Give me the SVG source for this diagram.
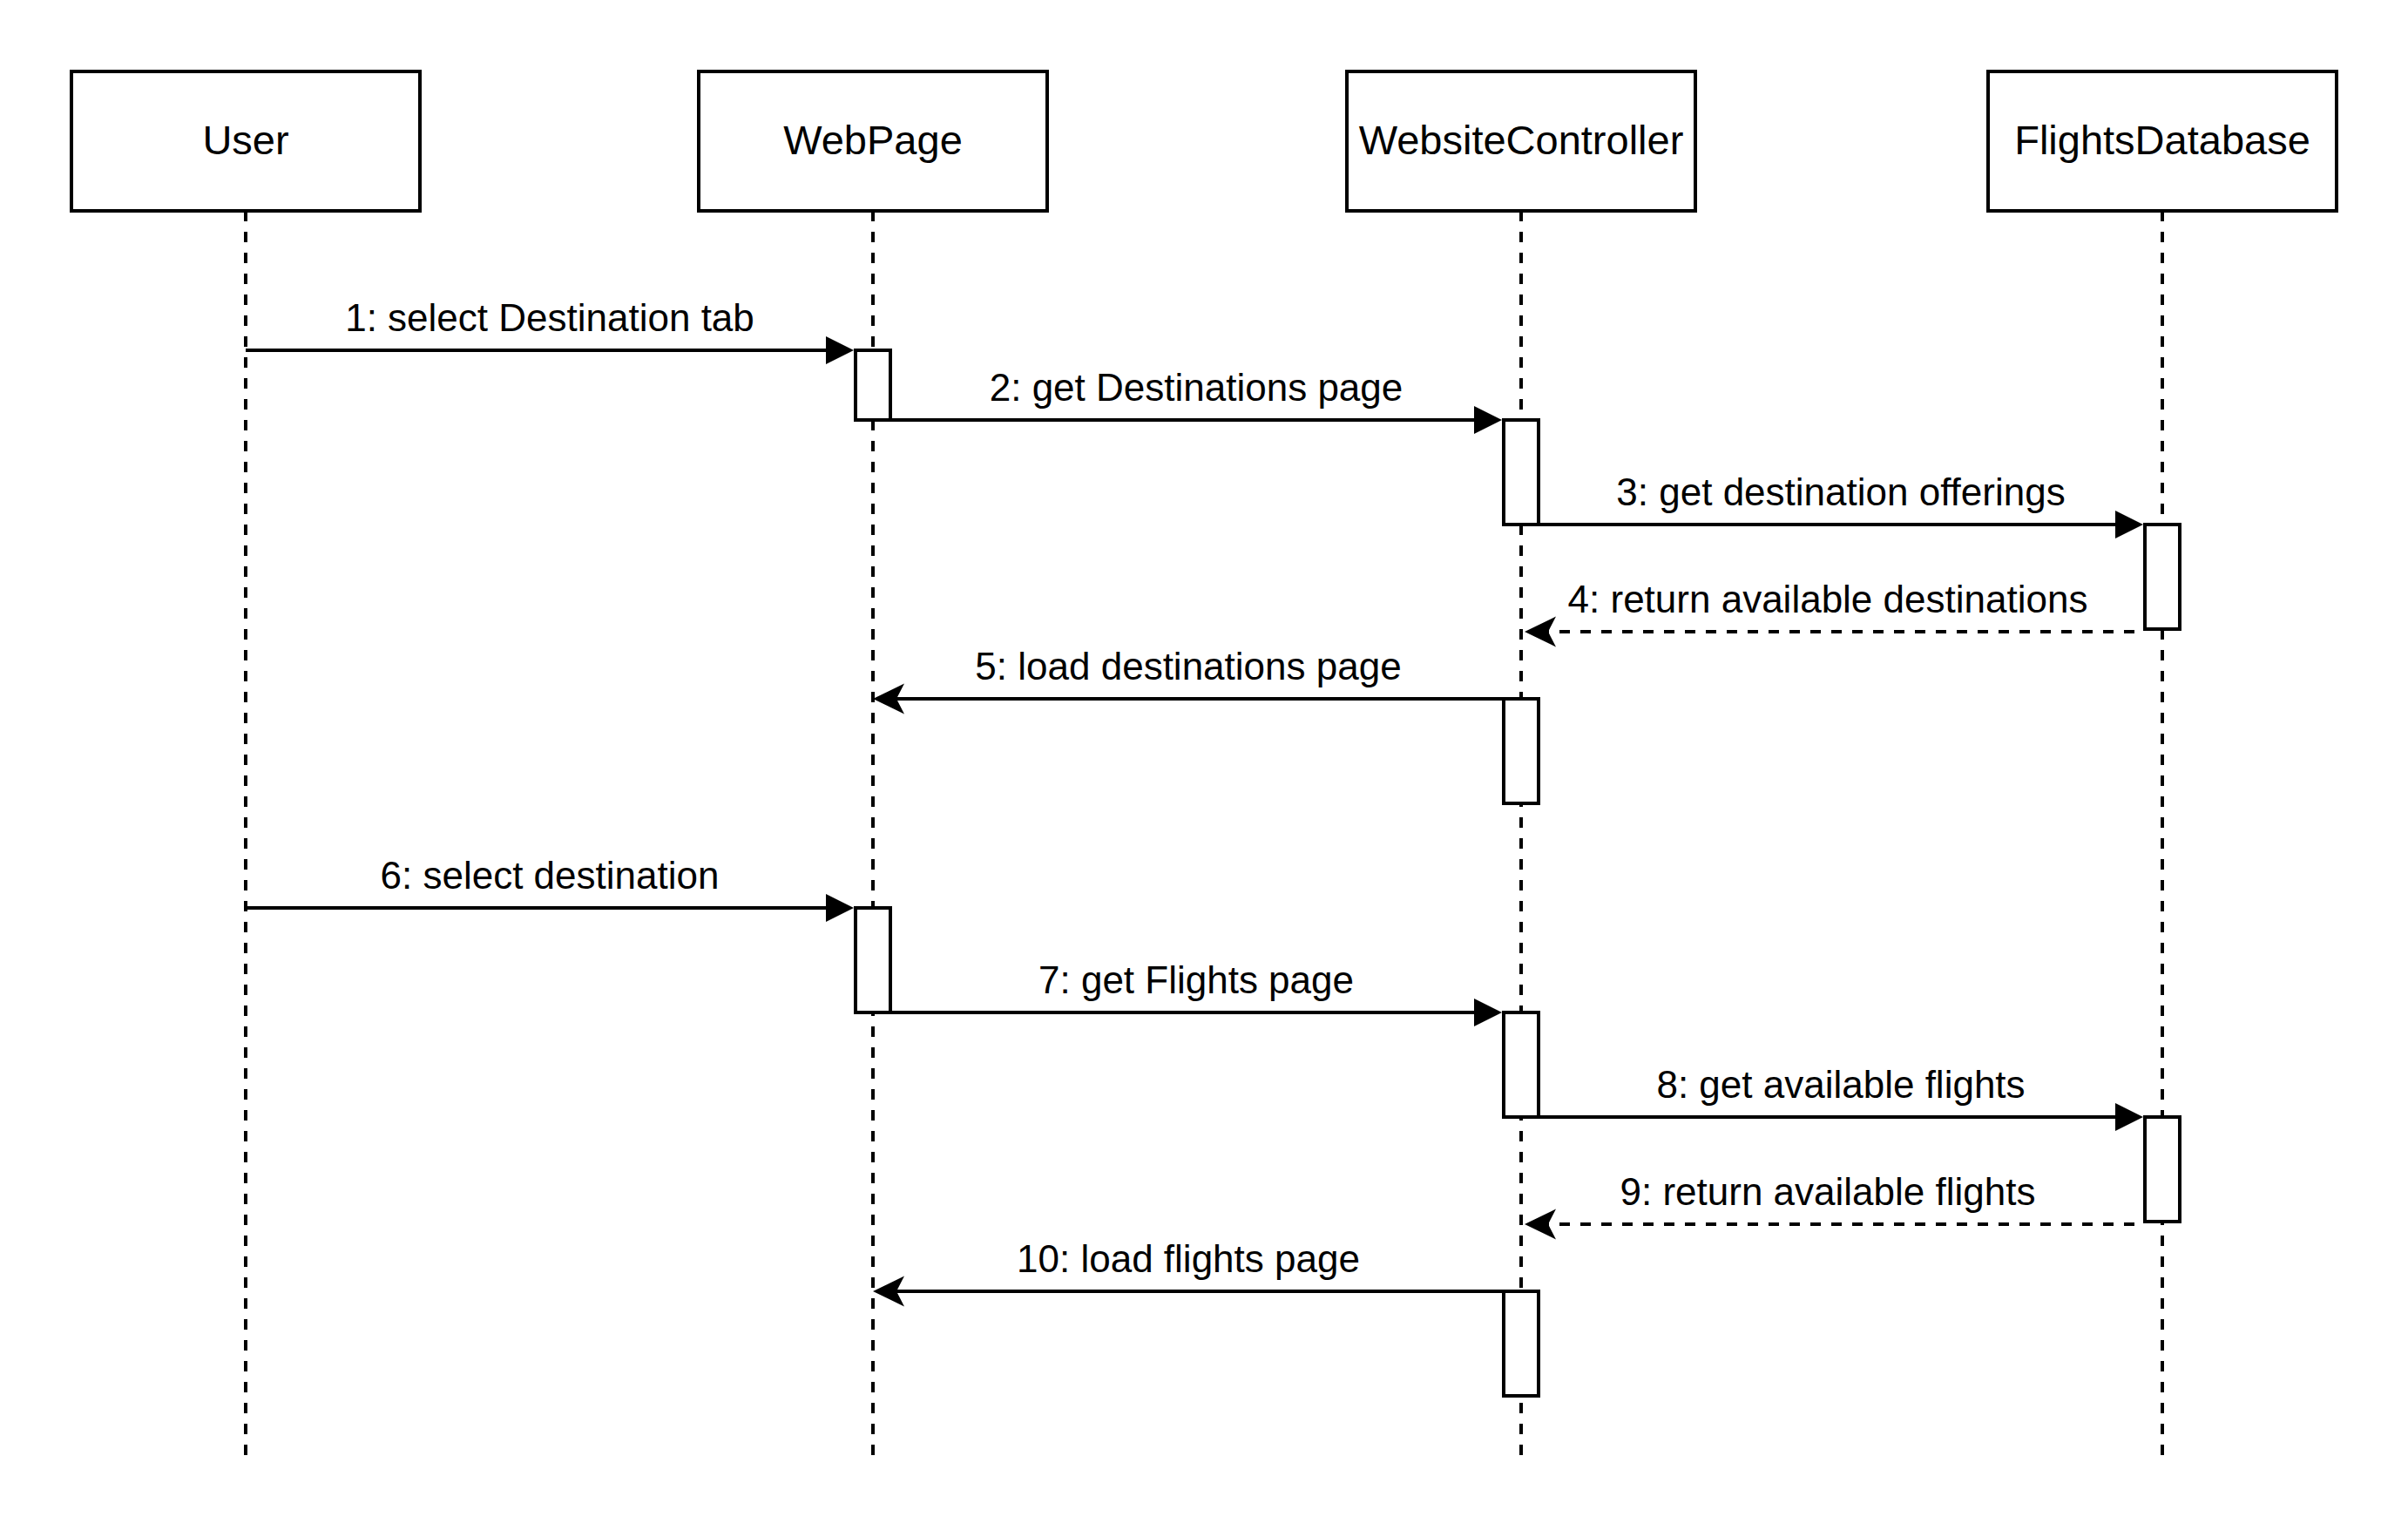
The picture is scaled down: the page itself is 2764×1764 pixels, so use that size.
<svg xmlns="http://www.w3.org/2000/svg" width="2764" height="1764" viewBox="0 0 2764 1764">
<style>
.box{fill:#fff;stroke:#000;stroke-width:4}
.act{fill:#fff;stroke:#000;stroke-width:4}
.life{stroke:#000;stroke-width:4;stroke-dasharray:12 12;fill:none}
.msg{stroke:#000;stroke-width:4;fill:none}
.ret{stroke:#000;stroke-width:4;fill:none;stroke-dasharray:12 12}
.sync{marker-end:url(#block)}
.cls{marker-end:url(#classic)}
.name{font-family:"Liberation Sans",Arial,Helvetica,sans-serif;font-size:47px;fill:#000;text-anchor:middle}
.lbl{font-family:"Liberation Sans",Arial,Helvetica,sans-serif;font-size:44px;fill:#000;text-anchor:middle}
</style>
<defs>
<marker id="block" markerUnits="userSpaceOnUse" markerWidth="34" markerHeight="34" refX="16" refY="16" orient="auto" overflow="visible">
<path d="M0,0 L32,16 L0,32 Z" fill="#000"/>
</marker>
<marker id="classic" markerUnits="userSpaceOnUse" markerWidth="36" markerHeight="36" refX="16" refY="18" orient="auto" overflow="visible">
<path d="M36,18 L0,0.5 L9,18 L0,35.5 Z" fill="#000"/>
</marker>
</defs>
<rect width="2764" height="1764" fill="#fff"/>

<g id="lifelines">
<line class="life" x1="282" y1="242" x2="282" y2="1670"/>
<line class="life" x1="1002" y1="242" x2="1002" y2="1670"/>
<line class="life" x1="1746" y1="242" x2="1746" y2="1670"/>
<line class="life" x1="2482" y1="242" x2="2482" y2="1670"/>
</g>

<g id="User">
<rect class="box" x="82" y="82" width="400" height="160"/>
<text class="name" x="282" y="177">User</text>
</g>
<g id="WebPage">
<rect class="box" x="802" y="82" width="400" height="160"/>
<text class="name" x="1002" y="177">WebPage</text>
</g>
<g id="WebsiteController">
<rect class="box" x="1546" y="82" width="400" height="160"/>
<text class="name" x="1746" y="177">WebsiteController</text>
</g>
<g id="FlightsDatabase">
<rect class="box" x="2282" y="82" width="400" height="160"/>
<text class="name" x="2482" y="177">FlightsDatabase</text>
</g>

<g id="activations">
<rect id="act-wp1" class="act" x="982" y="402" width="40" height="80"/>
<rect id="act-wc1" class="act" x="1726" y="482" width="40" height="120"/>
<rect id="act-fd1" class="act" x="2462" y="602" width="40" height="120"/>
<rect id="act-wc2" class="act" x="1726" y="802" width="40" height="120"/>
<rect id="act-wp2" class="act" x="982" y="1042" width="40" height="120"/>
<rect id="act-wc3" class="act" x="1726" y="1162" width="40" height="120"/>
<rect id="act-fd2" class="act" x="2462" y="1282" width="40" height="120"/>
<rect id="act-wc4" class="act" x="1726" y="1482" width="40" height="120"/>
</g>

<g id="connectors">
<line class="msg sync" x1="282" y1="402" x2="964" y2="402"/>
<line class="msg sync" x1="1022" y1="482" x2="1708" y2="482"/>
<line class="msg sync" x1="1766" y1="602" x2="2444" y2="602"/>
<line class="ret cls" x1="2450" y1="725" x2="1770" y2="725"/>
<line class="msg cls" x1="1726" y1="802" x2="1022" y2="802"/>
<line class="msg sync" x1="282" y1="1042" x2="964" y2="1042"/>
<line class="msg sync" x1="1022" y1="1162" x2="1708" y2="1162"/>
<line class="msg sync" x1="1766" y1="1282" x2="2444" y2="1282"/>
<line class="ret cls" x1="2450" y1="1405" x2="1770" y2="1405"/>
<line class="msg cls" x1="1726" y1="1482" x2="1022" y2="1482"/>
</g>

<g id="labels">
<text class="lbl" x="631" y="380">1: select Destination tab</text>
<text class="lbl" x="1373" y="460">2: get Destinations page</text>
<text class="lbl" x="2113" y="580">3: get destination offerings</text>
<text class="lbl" x="2098" y="703">4: return available destinations</text>
<text class="lbl" x="1364" y="780">5: load destinations page</text>
<text class="lbl" x="631" y="1020">6: select destination</text>
<text class="lbl" x="1373" y="1140">7: get Flights page</text>
<text class="lbl" x="2113" y="1260">8: get available flights</text>
<text class="lbl" x="2098" y="1383">9: return available flights</text>
<text class="lbl" x="1364" y="1460">10: load flights page</text>
</g>
</svg>
